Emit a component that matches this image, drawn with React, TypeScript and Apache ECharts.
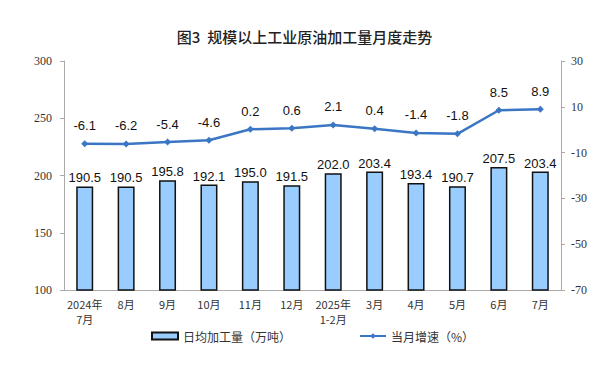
import React, { useEffect, useRef } from "react";
import * as echarts from "echarts";

const categories = ["2024年\n7月", "8月", "9月", "10月", "11月", "12月", "2025年\n1-2月", "3月", "4月", "5月", "6月", "7月"];
const dailyOutput = [190.5, 190.5, 195.8, 192.1, 195.0, 191.5, 202.0, 203.4, 193.4, 190.7, 207.5, 203.4];
const growthRate = [-6.1, -6.2, -5.4, -4.6, 0.2, 0.6, 2.1, 0.4, -1.4, -1.8, 8.5, 8.9];

const axisFont = "'Liberation Serif', 'DejaVu Serif', serif";
const cjkFont = "'Noto Sans CJK SC', sans-serif";

export default function App() {
  const ref = useRef<HTMLDivElement>(null);
  useEffect(() => {
    document.body.style.margin = "0";
    const chart = echarts.init(ref.current!, null, { renderer: "svg" });
    chart.setOption({
      animation: false,
      backgroundColor: "#ffffff",
      title: {
        text: "图3  规模以上工业原油加工量月度走势",
        left: "center",
        top: 24,
        textStyle: { fontFamily: cjkFont, fontSize: 15, fontWeight: 500, color: "#222" },
      },
      grid: { left: 64, right: 48, top: 61, bottom: 75 },
      legend: {
        bottom: 18,
        left: 146,
        itemGap: 68,
        itemWidth: 26,
        itemHeight: 7,
        textStyle: { fontFamily: cjkFont, fontSize: 12, color: "#333" },
        data: [
          { name: "日均加工量（万吨）", icon: "rect" },
          { name: "当月增速（%）" },
        ],
      },
      xAxis: {
        type: "category",
        data: categories,
        axisLine: { onZero: false, lineStyle: { color: "#aaa" } },
        axisTick: { inside: true, length: 3, lineStyle: { color: "#aaa" } },
        axisLabel: { fontFamily: cjkFont, fontSize: 11, color: "#333", interval: 0, lineHeight: 15, margin: 6 },
      },
      yAxis: [
        {
          type: "value",
          min: 100,
          max: 300,
          interval: 50,
          splitLine: { show: false },
          axisLine: { show: true, lineStyle: { color: "#aaa" } },
          axisTick: { show: true, length: 4, lineStyle: { color: "#aaa" } },
          axisLabel: { fontFamily: axisFont, fontSize: 12, color: "#333", margin: 12 },
        },
        {
          type: "value",
          min: -70,
          max: 30,
          interval: 20,
          splitLine: { show: false },
          axisLine: { show: true, lineStyle: { color: "#aaa" } },
          axisTick: { show: true, length: 4, lineStyle: { color: "#aaa" } },
          axisLabel: { fontFamily: axisFont, fontSize: 12, color: "#333", margin: 10 },
        },
      ],
      series: [
        {
          name: "日均加工量（万吨）",
          type: "bar",
          data: dailyOutput,
          barWidth: 17,
          itemStyle: { color: "#99ccff", borderColor: "#111", borderWidth: 1.5 },
          label: {
            show: true,
            position: "top",
            distance: 2,
            formatter: (p: any) => p.value.toFixed(1),
            fontFamily: "'Liberation Sans', Arial, sans-serif",
            fontSize: 13,
            color: "#111",
          },
        },
        {
          name: "当月增速（%）",
          type: "line",
          yAxisIndex: 1,
          data: growthRate,
          symbol: "diamond",
          symbolSize: 7,
          lineStyle: { color: "#3a76c4", width: 2.5 },
          itemStyle: { color: "#3a76c4" },
          label: {
            show: true,
            position: "top",
            distance: 8,
            formatter: (p: any) => p.value.toFixed(1),
            fontFamily: "'Liberation Sans', Arial, sans-serif",
            fontSize: 13,
            color: "#111",
          },
        },
      ],
    });
    return () => chart.dispose();
  }, []);
  return <div ref={ref} style={{ width: 609, height: 365 }} />;
}
